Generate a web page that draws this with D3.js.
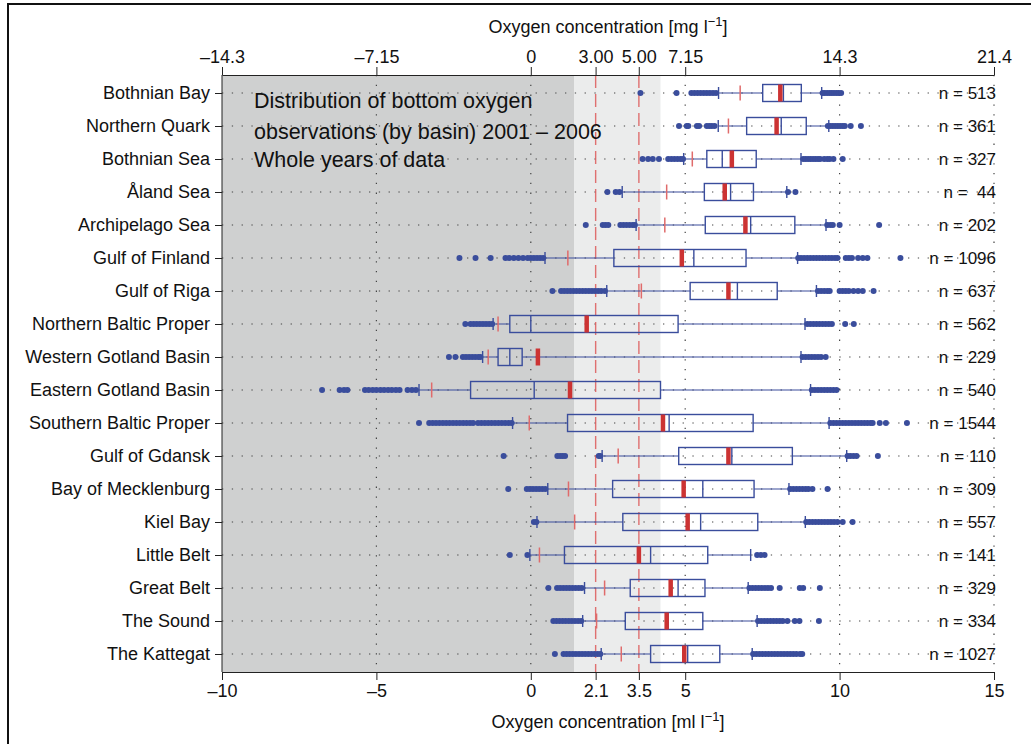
<!DOCTYPE html>
<html>
<head>
<meta charset="utf-8">
<script src="https://cdn.jsdelivr.net/npm/d3@7"></script>
<style>
  body { margin: 0; background: #fff; }
  text { font-family: 'Liberation Sans', Arial, sans-serif; fill: #111; }
</style>
</head>
<body>
<script>
// data (ml/l)
const basins = ['Bothnian Bay', 'Northern Quark', 'Bothnian Sea', 'Åland Sea', 'Archipelago Sea',
  'Gulf of Finland', 'Gulf of Riga', 'Northern Baltic Proper', 'Western Gotland Basin',
  'Eastern Gotland Basin', 'Southern Baltic Proper', 'Gulf of Gdansk', 'Bay of Mecklenburg',
  'Kiel Bay', 'Little Belt', 'Great Belt', 'The Sound', 'The Kattegat'];
const counts = ['513', '361', '327', ' 44', '202', '1096', '637', '562', '229', '540', '1544',
  '110', '309', '557', '141', '329', '334', '1027'];

const whiskerLow = [6.08, 6.07, 4.95, 2.96, 3.41, 0.46, 2.46, -1.22, -1.56, -3.62, -0.59, 2.31, 0.55, 0.20, -0.03, 1.74, 1.68, 2.28];
const lowMark = [6.78, 6.40, 5.23, 4.40, 4.34, 1.20, 3.58, -1.06, -1.38, -3.21, -0.05, 2.83, 1.22, 1.42, 0.28, 2.39, 2.13, 2.93];
const q1 = [7.51, 6.99, 5.70, 5.62, 5.65, 2.69, 5.16, -0.68, -1.06, -1.95, 1.19, 4.79, 2.65, 2.98, 1.09, 3.22, 3.06, 3.88];
const median = [8.18, 8.11, 6.20, 6.47, 7.12, 5.28, 6.69, 0.00, -0.68, 0.11, 4.48, 6.51, 5.57, 5.50, 3.88, 4.77, 4.45, 5.08];
const mean = [8.08, 7.96, 6.51, 6.28, 6.95, 4.89, 6.40, 1.81, 0.23, 1.27, 4.28, 6.40, 4.95, 5.08, 3.50, 4.53, 4.40, 4.97];
const q3 = [8.76, 8.92, 7.30, 7.21, 8.55, 6.97, 7.98, 4.77, -0.28, 4.20, 7.20, 8.47, 7.23, 7.35, 5.73, 5.64, 5.57, 6.12];
const whiskerHigh = [9.42, 9.65, 8.75, 8.29, 9.56, 8.64, 9.25, 8.88, 8.75, 9.06, 9.66, 10.23, 8.36, 8.89, 7.12, 7.04, 7.33, 7.17];

const outliers = [
  [3.55, 4.72, 5.2, 5.3, 5.4, 5.5, 5.6, 5.7, 5.8, 5.9, 6.0, 9.45, 9.52, 9.6, 9.68, 9.75, 9.82, 9.9, 9.97, 10.05],
  [4.8, 5.05, 5.1, 5.38, 5.45, 5.7, 5.78, 5.86, 5.95, 9.62, 9.7, 9.78, 9.86, 9.94, 10.02, 10.1, 10.17, 10.36, 10.69],
  [3.62, 3.8, 3.95, 4.15, 4.45, 4.55, 4.65, 4.75, 4.85, 4.93, 8.82, 8.9, 8.98, 9.06, 9.14, 9.22, 9.3, 9.37, 9.5, 9.6, 9.68, 9.8, 10.1],
  [2.48, 2.75, 2.87, 8.33, 8.57],
  [1.78, 2.33, 2.42, 2.51, 2.9, 3.0, 3.1, 3.2, 3.3, 3.37, 9.6, 9.7, 9.78, 10.0, 11.28],
  [-2.31, -1.79, -1.3, -0.82, -0.7, -0.55, -0.4, -0.25, -0.1, 0.0, 0.1, 0.2, 0.3, 0.4, 8.66, 8.75, 8.85, 8.95, 9.05,
    9.15, 9.25, 9.35, 9.45, 9.55, 9.65, 9.75, 9.85, 9.93, 10.2, 10.3, 10.4, 10.6, 10.75, 10.9, 11.97],
  [0.7, 0.98, 1.08, 1.18, 1.28, 1.38, 1.48, 1.58, 1.68, 1.78, 1.88, 1.98, 2.08, 2.18, 2.28, 2.4, 9.3, 9.4, 9.5, 9.6,
    9.68, 10.0, 10.1, 10.2, 10.3, 10.45, 10.6, 10.75, 11.1],
  [-2.12, -1.95, -1.85, -1.75, -1.65, -1.55, -1.45, -1.35, -1.25, 8.95, 9.05, 9.15, 9.25, 9.35, 9.45, 9.55, 9.65, 9.75, 10.18, 10.46],
  [-2.65, -2.44, -2.2, -2.1, -2.0, -1.9, -1.8, -1.7, -1.63, 8.8, 8.9, 9.0, 9.1, 9.2, 9.3, 9.4, 9.55],
  [-6.76, -6.19, -6.05, -5.94, -5.37, -5.25, -5.12, -5.0, -4.87, -4.75, -4.62, -4.5, -4.37, -4.25, -3.99, -3.85, -3.72,
    9.1, 9.2, 9.3, 9.4, 9.5, 9.6, 9.7, 9.8, 9.9],
  [-3.62, -3.29, -3.18, -3.07, -2.96, -2.85, -2.74, -2.63, -2.52, -2.41, -2.3, -2.19, -2.08, -1.97, -1.87, -1.71, -1.6,
    -1.49, -1.38, -1.27, -1.16, -1.05, -0.94, -0.83, -0.72, -0.62, 9.7, 9.8, 9.9, 10.0, 10.1, 10.2, 10.3, 10.4, 10.5,
    10.6, 10.7, 10.8, 10.9, 11.0, 11.07, 11.3, 11.5, 12.18],
  [-0.88, 0.86, 0.95, 1.03, 1.11, 2.2, 2.25, 10.26, 10.35, 10.45, 10.55, 11.24],
  [-0.73, -0.13, -0.03, 0.07, 0.17, 0.27, 0.37, 0.47, 8.4, 8.5, 8.6, 8.7, 8.8, 8.9, 8.99, 9.12, 9.61],
  [0.1, 0.18, 8.92, 9.02, 9.12, 9.22, 9.32, 9.42, 9.52, 9.62, 9.72, 9.82, 9.93, 10.1, 10.42],
  [-0.68, -0.11, 7.33, 7.45, 7.57],
  [0.57, 0.85, 0.95, 1.05, 1.15, 1.25, 1.35, 1.45, 1.55, 1.65, 7.08, 7.18, 7.28, 7.38, 7.48, 7.58, 7.68, 7.78, 8.06, 8.71, 8.82, 9.36],
  [0.73, 0.83, 0.93, 1.03, 1.13, 1.23, 1.33, 1.43, 1.53, 1.63, 7.36, 7.46, 7.56, 7.66, 7.76, 7.86, 7.96, 8.06, 8.16,
    8.31, 8.55, 8.7, 9.33],
  [0.78, 1.06, 1.16, 1.26, 1.36, 1.46, 1.56, 1.66, 1.76, 1.86, 1.96, 2.06, 2.16, 2.25, 7.2, 7.3, 7.4, 7.5, 7.6, 7.7,
    7.8, 7.9, 8.0, 8.1, 8.2, 8.3, 8.4, 8.5, 8.6, 8.72, 8.79]
];

// axis ticks
const mlTicks = [-10, -5, 0, 2.1, 3.5, 5, 10, 15];
const mlLabels = ['–10', '–5', '0', '2.1', '3.5', '5', '10', '15'];
const mgTicks = [-14.3, -7.15, 0, 3, 5, 7.15, 14.3, 21.45];
const mgLabels = ['–14.3', '–7.15', '0', '3.00', '5.00', '7.15', '14.3', '21.4'];
const gridTicks = [-5, 0, 5, 10, 15];
const limits = [2.1, 3.5];          // dashed red lines
const zones = [[-10, 1.4], [1.4, 4.2]]; // hypoxic / low oxygen shading

const annotation = ['Distribution of bottom oxygen', 'observations (by basin) 2001 – 2006', 'Whole years of data'];

// canvas
const width = 1031;
const height = 744;
const margin = { top: 75, left: 222, bottom: 72, right: 37 };
const blue = '#3a4d9c';

const svg = d3.select('body').append('svg').attr('width', width).attr('height', height);

// outer frame
svg.append('rect')
  .attr('x', 8).attr('y', 4).attr('width', 1100).attr('height', 900)
  .attr('fill', 'none').attr('stroke', '#111').attr('stroke-width', 2);

const x = d3.scaleLinear().domain([-10, 15]).range([margin.left, width - margin.right]);
const xmg = d3.scaleLinear().domain([-14.3, 21.45]).range([margin.left, width - margin.right]);
const y = d3.scalePoint().domain(basins).range([93, 654]);
const bottom = height - margin.bottom;

// shaded zones
svg.append('g')
  .selectAll('rect')
  .data(zones)
  .enter()
  .append('rect')
  .attr('x', (d) => x(d[0]))
  .attr('y', margin.top)
  .attr('width', (d) => x(d[1]) - x(d[0]))
  .attr('height', bottom - margin.top)
  .attr('fill', (d, i) => (i === 0 ? '#cfd0d0' : '#ebecec'));

// dotted grid
svg.append('g')
  .selectAll('line')
  .data(gridTicks)
  .enter()
  .append('line')
  .attr('x1', (d) => x(d)).attr('x2', (d) => x(d))
  .attr('y1', margin.top).attr('y2', bottom)
  .attr('stroke', '#444').attr('stroke-width', 1.2).attr('stroke-dasharray', '1.3,8.5');

svg.append('g')
  .selectAll('line')
  .data(basins)
  .enter()
  .append('line')
  .attr('x1', margin.left).attr('x2', width - margin.right)
  .attr('y1', (d) => y(d)).attr('y2', (d) => y(d))
  .attr('stroke', '#444').attr('stroke-width', 1.2).attr('stroke-dasharray', '1.3,8.5');

// dashed limits
svg.append('g')
  .selectAll('line')
  .data(limits)
  .enter()
  .append('line')
  .attr('x1', (d) => x(d)).attr('x2', (d) => x(d))
  .attr('y1', margin.top).attr('y2', bottom)
  .attr('stroke', '#dd5a5a').attr('stroke-opacity', 0.85).attr('stroke-width', 1.4)
  .attr('stroke-dasharray', '13,6');

// axes
const xAxis = (g) =>
  g.attr('transform', `translate(0, ${bottom})`)
    .call(d3.axisBottom(x).tickValues(mlTicks).tickFormat((d, i) => mlLabels[i]).tickSize(8).tickSizeOuter(0).tickPadding(4));
const topAxis = (g) =>
  g.attr('transform', `translate(0, ${margin.top})`)
    .call(d3.axisTop(xmg).tickValues(mgTicks).tickFormat((d, i) => mgLabels[i]).tickSize(8).tickSizeOuter(0).tickPadding(4));
const yAxis = (g) =>
  g.attr('transform', `translate(${margin.left}, 0)`)
    .call(d3.axisLeft(y).tickSize(7).tickPadding(5))
    .call((g) => g.select('.domain').attr('d', `M0,${margin.top}V${bottom}`));

[svg.append('g').call(xAxis), svg.append('g').call(topAxis), svg.append('g').call(yAxis)].forEach((g) => {
  g.selectAll('text').attr('font-size', '18px').attr('fill', '#111');
  g.selectAll('line, path').attr('stroke', '#222');
});

// boxplots
const rows = basins.map((b, i) => ({ b, i }));
const box = svg.append('g');
const bh = 17;

// whiskers
box.selectAll('.wl')
  .data(rows)
  .enter()
  .append('path')
  .attr('d', (d) => `M${x(whiskerLow[d.i])},${y(d.b)}H${x(q1[d.i])}M${x(q3[d.i])},${y(d.b)}H${x(whiskerHigh[d.i])}`)
  .attr('stroke', blue).attr('stroke-width', 1.2).attr('fill', 'none');

box.selectAll('.cap')
  .data(rows)
  .enter()
  .append('path')
  .attr('d', (d) => `M${x(whiskerLow[d.i])},${y(d.b) - 6}v12M${x(whiskerHigh[d.i])},${y(d.b) - 6}v12`)
  .attr('stroke', blue).attr('stroke-width', 1.4);

// outliers
box.selectAll('.out')
  .data(rows)
  .enter()
  .append('g')
  .selectAll('circle')
  .data((d) => outliers[d.i].map((v) => ({ v, b: d.b })))
  .enter()
  .append('circle')
  .attr('cx', (d) => x(d.v))
  .attr('cy', (d) => y(d.b))
  .attr('r', 3)
  .attr('fill', blue);

// low mark
box.selectAll('.lm')
  .data(rows)
  .enter()
  .append('line')
  .attr('x1', (d) => x(lowMark[d.i])).attr('x2', (d) => x(lowMark[d.i]))
  .attr('y1', (d) => y(d.b) - 7.5).attr('y2', (d) => y(d.b) + 7.5)
  .attr('stroke', '#e06b6b').attr('stroke-width', 1.5);

// boxes
box.selectAll('rect')
  .data(rows)
  .enter()
  .append('rect')
  .attr('x', (d) => x(q1[d.i]))
  .attr('y', (d) => y(d.b) - bh / 2)
  .attr('width', (d) => x(q3[d.i]) - x(q1[d.i]))
  .attr('height', bh)
  .attr('fill', 'none')
  .attr('stroke', blue).attr('stroke-width', 1.4);

box.selectAll('.med')
  .data(rows)
  .enter()
  .append('line')
  .attr('x1', (d) => x(median[d.i])).attr('x2', (d) => x(median[d.i]))
  .attr('y1', (d) => y(d.b) - bh / 2).attr('y2', (d) => y(d.b) + bh / 2)
  .attr('stroke', blue).attr('stroke-width', 1.4);

box.selectAll('.mean')
  .data(rows)
  .enter()
  .append('line')
  .attr('x1', (d) => x(mean[d.i])).attr('x2', (d) => x(mean[d.i]))
  .attr('y1', (d) => y(d.b) - bh / 2).attr('y2', (d) => y(d.b) + bh / 2)
  .attr('stroke', '#cc3333').attr('stroke-width', 4.5);

// n labels
svg.append('g')
  .selectAll('text')
  .data(rows)
  .enter()
  .append('text')
  .attr('x', 996)
  .attr('y', (d) => y(d.b))
  .attr('dy', '0.35em')
  .attr('text-anchor', 'end')
  .attr('font-size', '17px')
  .attr('xml:space', 'preserve')
  .style('white-space', 'pre')
  .text((d) => `n = ${counts[d.i]}`);

// annotation
svg.append('g')
  .selectAll('text')
  .data(annotation)
  .enter()
  .append('text')
  .attr('x', 254)
  .attr('y', (d, i) => [108, 139, 167][i])
  .attr('font-size', '21.5px')
  .text((d) => d);

// axis titles
const title = (yy) => {
  const t = svg.append('text')
    .attr('x', 608).attr('y', yy)
    .attr('text-anchor', 'middle')
    .attr('font-size', '18px');
  return t;
};
const t1 = title(33);
t1.append('tspan').text('Oxygen concentration [mg l');
t1.append('tspan').attr('dy', -7).attr('font-size', '13px').text('−1');
t1.append('tspan').attr('dy', 7).text(']');

const t2 = title(728);
t2.append('tspan').text('Oxygen concentration [ml l');
t2.append('tspan').attr('dy', -7).attr('font-size', '13px').text('−1');
t2.append('tspan').attr('dy', 7).text(']');
</script>
</body>
</html>
